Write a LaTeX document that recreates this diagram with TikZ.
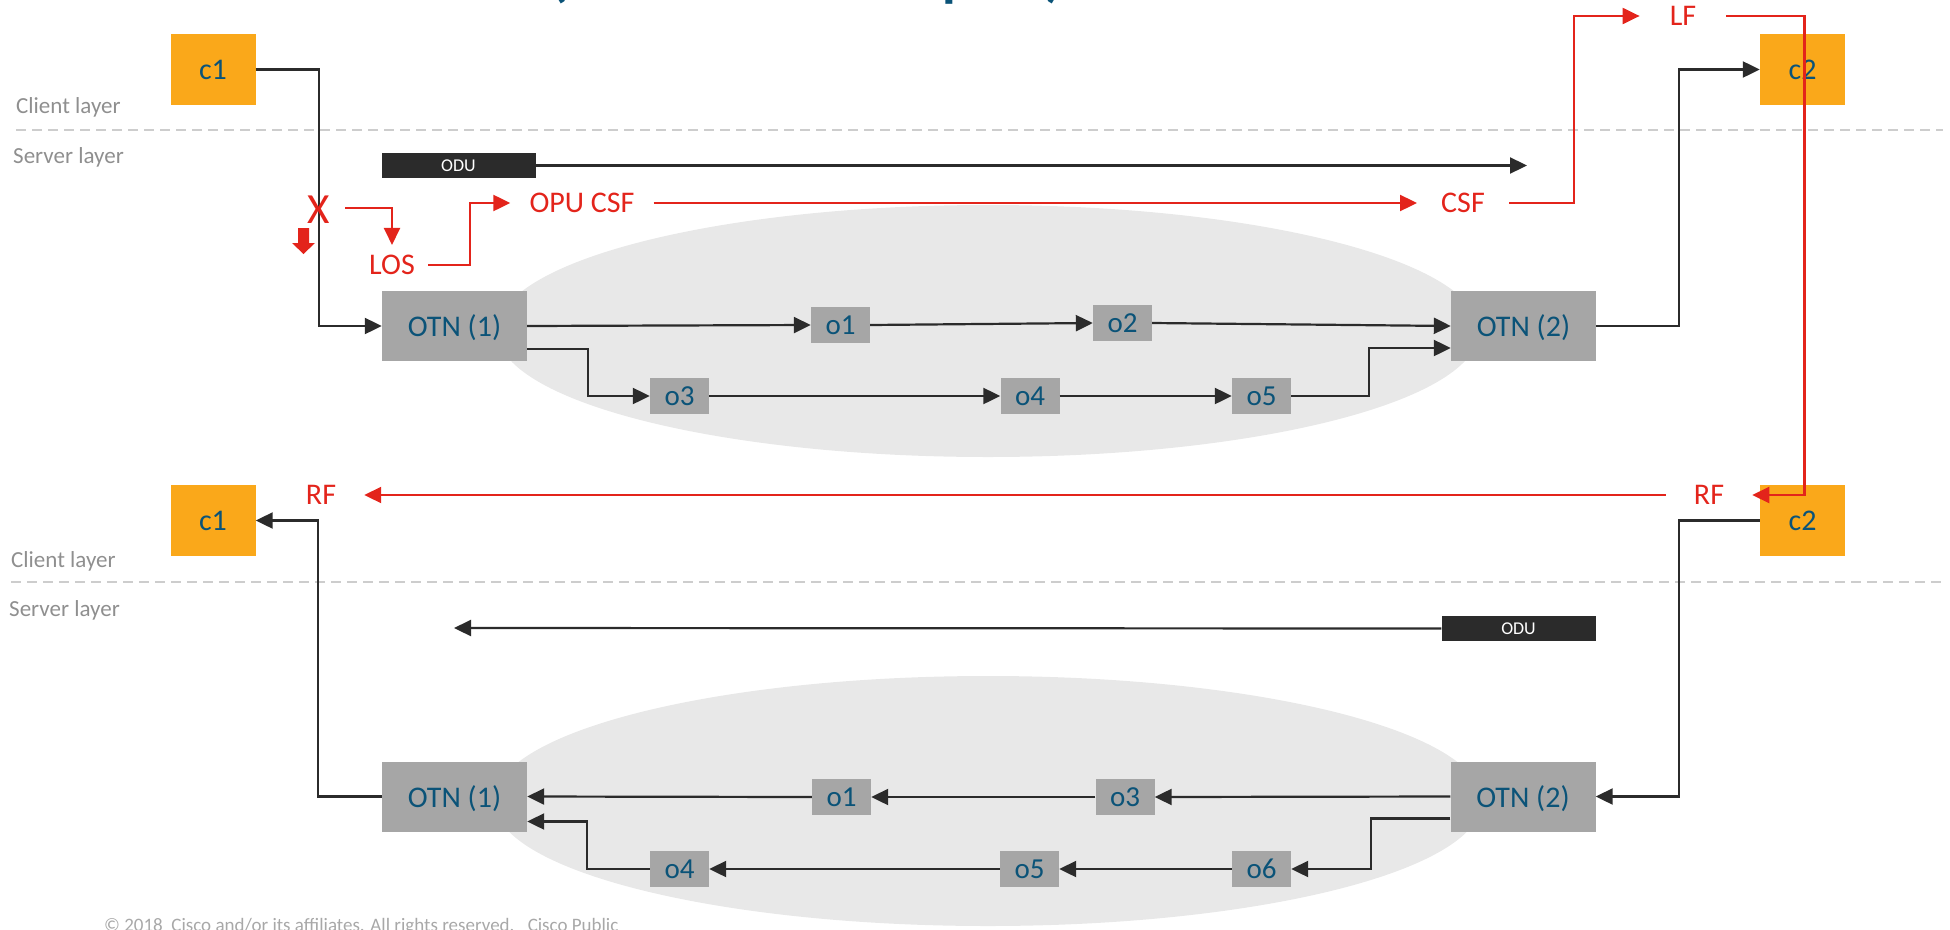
\documentclass[tikz,border=0pt]{standalone}
\usepackage{fontspec}
\setmainfont{Carlito}
\usetikzlibrary{arrows.meta,calc}

\definecolor{ciscoorange}{HTML}{FAA81A}
\definecolor{boxgray}{HTML}{A6A6A6}
\definecolor{cloudgray}{HTML}{E8E8E8}
\definecolor{navy}{HTML}{0B5378}
\definecolor{alarmred}{HTML}{E3241B}
\definecolor{ink}{HTML}{2B2B2B}
\definecolor{layergray}{HTML}{8F8F8F}
\definecolor{dashgray}{HTML}{CDCDCD}
\definecolor{footgray}{HTML}{A8A8A8}

\newcommand\fsz[1]{\fontsize{#1}{#1}\selectfont}

\begin{document}
\begin{tikzpicture}[x=1pt,y=-1pt,
  client/.style={fill=ciscoorange, minimum width=85pt, minimum height=71pt, inner sep=0pt, text=navy, font=\fsz{30}},
  otn/.style={fill=boxgray, minimum width=145pt, minimum height=70pt, inner sep=0pt, text=navy, font=\fsz{30}, text depth=0pt},
  hop/.style={fill=boxgray, minimum width=59pt, minimum height=36pt, inner sep=0pt, text=navy, font=\fsz{29}},
  odu/.style={fill=ink, minimum width=154pt, minimum height=25pt, inner sep=0pt, text=white, font=\fsz{18}},
  alarm/.style={text=alarmred, font=\fsz{30}, inner ysep=10pt},
  layer/.style={text=layergray, font=\fsz{23}, anchor=base west, inner sep=0pt},
  tip/.style={-{Triangle[length=17pt,width=16pt]}},
  link/.style={draw=ink, line width=2.2pt, tip},
  flow/.style={draw=alarmred, line width=2.2pt, tip},
  divider/.style={draw=dashgray, line width=2.5pt, dash pattern=on 10pt off 6pt},
  titlebit/.style={text=navy, font=\fsz{56}\bfseries, anchor=base west, inner sep=0pt},
]
\useasboundingbox (0,0) rectangle (1950,929);
\clip (0,0) rectangle (1950,929);

% network clouds
\fill[cloudgray] (988,331) ellipse [x radius=491, y radius=126];
\fill[cloudgray] (988,801) ellipse [x radius=494, y radius=125];

% title descenders peeking in at the top edge
\node[titlebit] (tA) at (550,-5) {(};
\node[titlebit] (tB) at (942,-5) {p};
\node[titlebit] (tC) at (1045,-5) {)};

% layer separators and labels
\coordinate (dtl) at (16,130);  \coordinate (dtr) at (1943,130);
\coordinate (dbl) at (11,582);  \coordinate (dbr) at (1943,582);
\draw[divider] (dtl) -- (dtr);
\draw[divider] (dbl) -- (dbr);
\node[layer] (clt) at (16,113) {Client layer};
\node[layer] (slt) at (13,163) {Server layer};
\node[layer] (clb) at (11,567) {Client layer};
\node[layer] (slb) at (9,616) {Server layer};

% ---------- forward direction ----------
\node[client] (c1t) at (213,69.5) {c1};
\node[client] (c2t) at (1802.5,69.5) {c2};
\node[otn] (n1t) at (454.5,326) {OTN (1)};
\node[otn] (n2t) at (1523.5,326) {OTN (2)};
\node[hop] (o1t) at (840.5,325) {o1};
\node[hop] (o2t) at (1122.5,323) {o2};
\node[hop] (o3t) at (679.5,396) {o3};
\node[hop] (o4t) at (1030,396) {o4};
\node[hop] (o5t) at (1261.5,396) {o5};
\node[odu] (odut) at (458.5,165.5) {ODU};
\coordinate (oduendt) at (1527,165.5);

\draw[link] (odut.east) -- (oduendt);
\draw[link] (c1t.east) -- ++(63,0) |- (n1t.west);
\draw[link] (n1t.east) -- (o1t.west);
\draw[link] (o1t.east) -- (o2t.west);
\draw[link] (o2t.east) -- (n2t.west);
\draw[link] ($(n1t.east)+(0,23)$) -- ++(61,0) |- (o3t.west);
\draw[link] (o3t.east) -- (o4t.west);
\draw[link] (o4t.east) -- (o5t.west);
\draw[link] (o5t.east) -- ++(78,0) |- ($(n2t.west)+(0,22)$);
\draw[link] (n2t.east) -- ++(83,0) |- (c2t.west);

% ---------- return direction ----------
\node[client] (c1b) at (213,520.5) {c1};
\node[client] (c2b) at (1802.5,520.5) {c2};
\node[otn] (n1b) at (454.5,796.5) {OTN (1)};
\node[otn] (n2b) at (1523,796.5) {OTN (2)};
\node[hop] (o1b) at (841.5,797) {o1};
\node[hop] (o3b) at (1125,797) {o3};
\node[hop] (o4b) at (679.5,869) {o4};
\node[hop] (o5b) at (1029.5,869) {o5};
\node[hop] (o6b) at (1261.5,869) {o6};
\node[odu] (odub) at (1518.5,628.5) {ODU};
\coordinate (oduendb) at (454,628);

\draw[link] (odub.west) -- (oduendb);
\draw[link] (c2b.west) -- ++(-81,0) |- (n2b.east);
\draw[link] (n2b.west) -- (o3b.east);
\draw[link] (o3b.west) -- (o1b.east);
\draw[link] (o1b.west) -- (n1b.east);
\draw[link] ($(n2b.west)+(0,22)$) -- ++(-79,0) |- (o6b.east);
\draw[link] (o6b.west) -- (o5b.east);
\draw[link] (o5b.west) -- (o4b.east);
\draw[link] (o4b.west) -- ++(-63,0) |- ($(n1b.east)+(0,25)$);
\draw[link] (n1b.west) -- ++(-64,0) |- (c1b.east);

% ---------- fault indications ----------
\node[text=alarmred, font=\fsz{43}, inner sep=0pt] (cut) at (319,210) {X};
\fill[alarmred] (298,228) -- (309,228) -- (309,243) -- (315,243) -- (303.5,254)
  -- (292,243) -- (298,243) -- cycle;

\node[alarm, inner xsep=13pt] (los) at (392,265) {LOS};
\node[alarm, inner xsep=19pt] (opucsf) at (582,203) {OPU CSF};
\node[alarm, inner xsep=24pt] (csf) at (1463,203) {CSF};
\node[alarm, inner xsep=30pt] (lf) at (1683,16) {LF};
\node[alarm, inner xsep=28pt] (rfr) at (1709,495) {RF};
\node[alarm, inner xsep=28pt] (rfl) at (321,495) {RF};

\draw[flow] ($(cut.east)+(15,-2)$) -| (los.north);
\draw[flow] (los.east) -- ++(42,0) |- (opucsf.west);
\draw[flow] (opucsf.east) -- (csf.west);
\draw[flow] (csf.east) -- ++(65,0) |- (lf.west);
\draw[flow] (lf.east) -- ++(78,0) |- (rfr.east);
\draw[flow] (rfr.west) -- (rfl.east);

% footer
\node[anchor=base west, inner sep=0pt, text=footgray, font=\fsz{19}] (foot) at (104,931)
  {© 2018\hspace{0.45em}Cisco and/or its affiliates. All rights reserved.\hspace{0.7em}Cisco Public};
\end{tikzpicture}
\end{document}
